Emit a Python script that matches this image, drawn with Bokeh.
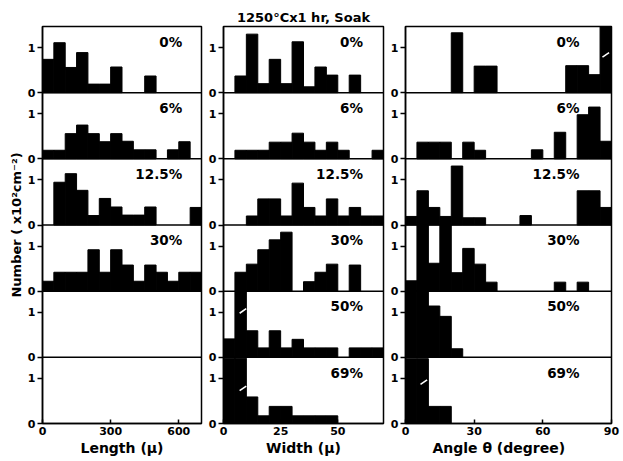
from bokeh.plotting import figure
from bokeh.layouts import row
from bokeh.models import Span, FixedTicker, CustomJSTickFormatter
from bokeh.core.properties import value
from bokeh.embed import file_html
from bokeh.resources import INLINE

FONT = "DejaVu Sans"

# ---------------- data ----------------
row_labels = ["0%", "6%", "12.5%", "30%", "50%", "69%"]

# Length histogram: bins of 50 µ from 0 to 700
length_bin = 50
length_counts = [
    [0.74, 1.11, 0.56, 0.89, 0.19, 0.19, 0.57, 0, 0, 0.37, 0, 0, 0, 0],
    [0.19, 0.19, 0.56, 0.75, 0.56, 0.38, 0.56, 0.39, 0.20, 0.20, 0, 0.20, 0.38, 0],
    [0, 0.95, 1.14, 0.77, 0.21, 0.59, 0.40, 0.22, 0.22, 0.40, 0, 0, 0, 0.39],
    [0.22, 0.42, 0.42, 0.42, 0.92, 0.42, 0.92, 0.58, 0.22, 0.58, 0.42, 0.22, 0.42, 0.42],
    None,
    None,
]
length_ticks = [0, 300, 600]

# Width histogram: bins of 5 µ from 0 to 70
width_bin = 5
width_counts = [
    [0, 0.37, 1.30, 0.20, 0.74, 0.20, 1.13, 0.13, 0.57, 0.39, 0, 0.39, 0, 0],
    [0, 0.19, 0.19, 0.19, 0.37, 0.37, 0.57, 0.37, 0.19, 0.37, 0.19, 0, 0, 0.19],
    [0, 0, 0.20, 0.58, 0.58, 0.20, 0.93, 0.39, 0.20, 0.58, 0.20, 0.39, 0.20, 0.20],
    [0, 0.42, 0.60, 0.92, 1.14, 1.31, 0, 0.21, 0.42, 0.60, 0, 0.58, 0, 0],
    [0.41, 1.45, 0.59, 0.21, 0.59, 0.21, 0.40, 0.21, 0.21, 0.21, 0, 0.21, 0.21, 0.21],
    [1.45, 1.45, 0.59, 0.17, 0.38, 0.38, 0.17, 0.17, 0.17, 0.17, 0, 0, 0, 0],
]
width_ticks = [0, 25, 50]
# truncated-bar break marks: (row, x, y)
width_breaks_row = [4, 5]
width_breaks_x = [8.5, 8.5]
width_breaks_y = [1.03, 0.78]

# Angle histogram: bins of 5 degrees from 0 to 90
angle_bin = 5
angle_counts = [
    [0, 0, 0, 0, 1.33, 0, 0.59, 0.59, 0, 0, 0, 0, 0, 0, 0.60, 0.60, 0.40, 1.47],
    [0, 0.37, 0.37, 0.37, 0, 0.37, 0.19, 0, 0, 0, 0, 0.20, 0, 0.59, 0, 0.98, 1.15, 0.39],
    [0.19, 0.76, 0.39, 0.19, 1.31, 0.16, 0.16, 0, 0, 0, 0.21, 0, 0, 0, 0, 0.76, 0.76, 0.39],
    [0.23, 1.47, 0.62, 1.47, 0.41, 0.95, 0.60, 0.20, 0, 0, 0, 0, 0, 0.20, 0, 0.20, 0, 0],
    [1.47, 1.47, 1.14, 0.91, 0.19, 0, 0, 0, 0, 0, 0, 0, 0, 0, 0, 0, 0, 0],
    [1.44, 1.44, 0.38, 0.38, 0, 0, 0, 0, 0, 0, 0, 0, 0, 0, 0, 0, 0, 0],
]
angle_ticks = [0, 30, 60, 90]
angle_breaks_row = [0, 5]
angle_breaks_x = [87.5, 8.0]
angle_breaks_y = [0.84, 0.92]

H = 1.47          # height of one stacked panel in count units
NROWS = 6


def make_panel(xmax, bw, counts, xticks, xlabel, label_x, width, left, right,
               breaks=None, title=None, ylabel=None):
    p = figure(width=width, height=461, x_range=(0, xmax), y_range=(0, NROWS * H),
               output_backend="svg", toolbar_location=None,
               min_border_left=left, min_border_right=right,
               min_border_top=26, min_border_bottom=38)
    p.xgrid.visible = False
    p.ygrid.visible = False
    p.background_fill_color = "white"
    p.border_fill_color = "white"
    p.outline_line_color = "black"
    p.outline_line_width = 1.5

    L, R, B, T = [], [], [], []
    tx, ty, tt = [], [], []
    for r, cs in enumerate(counts):
        off = (NROWS - 1 - r) * H
        if cs is None:
            continue
        for i, c in enumerate(cs):
            if c > 0:
                L.append(i * bw)
                R.append((i + 1) * bw)
                B.append(off)
                T.append(off + min(c, H))
        tx.append(label_x)
        ty.append(off + 1.13)
        tt.append(row_labels[r])
    p.quad(left=L, right=R, bottom=B, top=T, fill_color="black", line_color="black",
           line_width=1)

    p.text(x=tx, y=ty, text=tt, text_align="right", text_baseline="middle",
           text_font=value(FONT), text_font_style="bold", text_font_size="13.5px",
           text_color="black")

    if breaks is not None:
        br, bx, by = breaks
        p.scatter(x=bx, y=[(NROWS - 1 - r) * H + v for r, v in zip(br, by)],
                  marker="dash", size=8, angle=0.6, line_color="white", line_width=1.6)

    for k in range(1, NROWS):
        p.add_layout(Span(location=k * H, dimension="width", line_color="black",
                          line_width=1.5))

    # y axis
    yt = []
    for r in range(NROWS):
        off = (NROWS - 1 - r) * H
        yt += [off, off + 1]
    ya = p.yaxis[0]
    ya.ticker = FixedTicker(ticks=yt)
    ya.formatter = CustomJSTickFormatter(args=dict(H=H), code="""
        const r = tick - Math.floor((tick + 1e-6) / H) * H;
        return r > 0.5 ? "1" : "0";
    """)
    ya.major_tick_in = 0
    ya.major_tick_out = 5
    ya.minor_tick_line_color = None
    ya.major_label_standoff = 2
    ya.axis_line_width = 1.5
    ya.axis_line_color = "black"
    ya.major_tick_line_width = 1.5
    ya.major_tick_line_color = "black"
    ya.major_label_text_font = FONT
    ya.major_label_text_font_style = "bold"
    ya.major_label_text_font_size = "11px"
    ya.major_label_text_color = "black"
    if ylabel:
        ya.axis_label = ylabel
        ya.axis_label_text_font = FONT
        ya.axis_label_text_font_style = "bold"
        ya.axis_label_text_font_size = "13px"
        ya.axis_label_text_color = "black"
        ya.axis_label_standoff = 1

    xa = p.xaxis[0]
    xa.ticker = FixedTicker(ticks=xticks)
    xa.major_tick_in = 4
    xa.major_tick_out = 0
    xa.minor_tick_line_color = None
    xa.major_label_standoff = 3
    xa.axis_line_width = 1.5
    xa.axis_line_color = "black"
    xa.major_tick_line_width = 1.5
    xa.major_tick_line_color = "black"
    xa.major_label_text_font = FONT
    xa.major_label_text_font_style = "bold"
    xa.major_label_text_font_size = "11px"
    xa.major_label_text_color = "black"
    xa.axis_label = xlabel
    xa.axis_label_text_font = FONT
    xa.axis_label_text_font_style = "bold"
    xa.axis_label_text_font_size = "14px"
    xa.axis_label_text_color = "black"
    xa.axis_label_standoff = 2

    if title:
        p.title.text = title
        p.title.align = "center"
        p.title.text_font = FONT
        p.title.text_font_style = "bold"
        p.title.text_font_size = "13px"
        p.title.text_color = "black"
        p.title.standoff = 3
    return p


p1 = make_panel(700, length_bin, length_counts, length_ticks, "Length (μ)", 615,
                width=203, left=42, right=2, ylabel="Number ( x10²cm⁻²)")
p2 = make_panel(70, width_bin, width_counts, width_ticks, "Width (μ)", 61,
                width=182, left=20, right=2,
                breaks=(width_breaks_row, width_breaks_x, width_breaks_y),
                title="1250°Cx1 hr, Soak")
p3 = make_panel(90, angle_bin, angle_counts, angle_ticks, "Angle   θ   (degree)", 76,
                width=238, left=20, right=12,
                breaks=(angle_breaks_row, angle_breaks_x, angle_breaks_y))

layout = row(p1, p2, p3, spacing=0)
open("out.html", "w").write(file_html(layout, INLINE))
